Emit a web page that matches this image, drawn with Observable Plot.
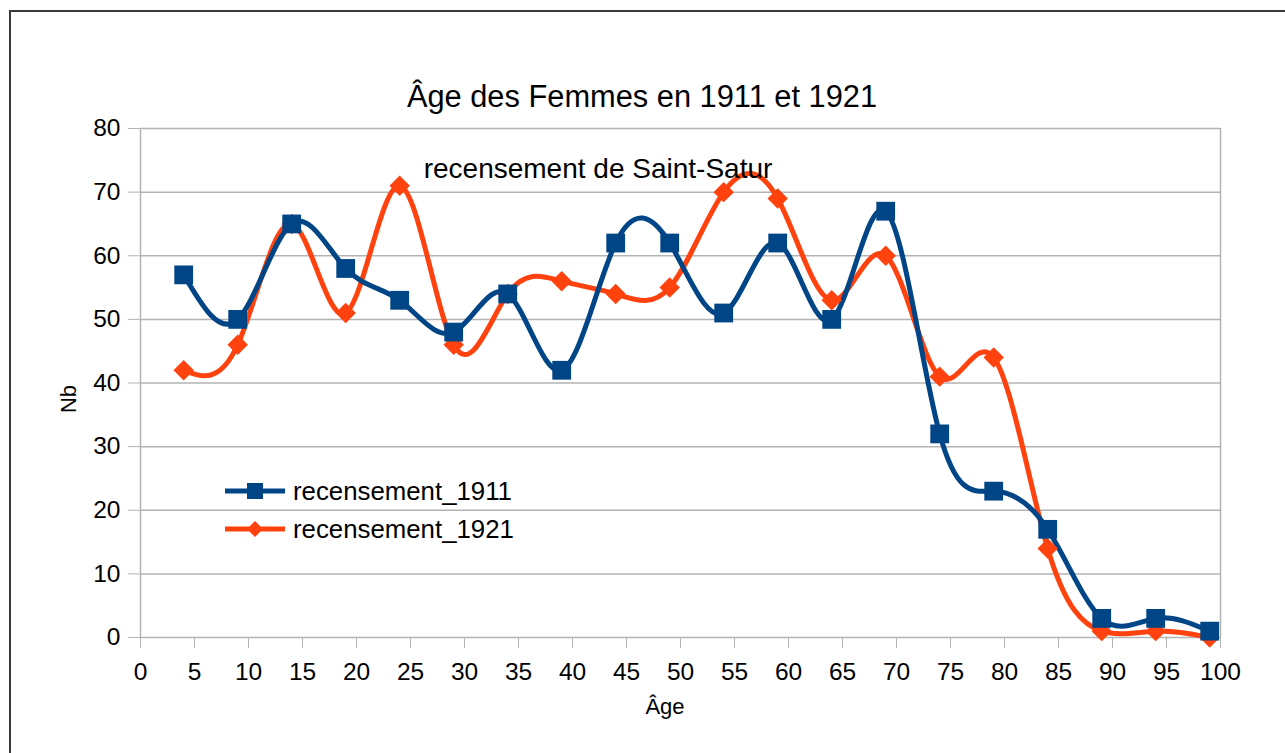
<!DOCTYPE html>
<html><head><meta charset="utf-8">
<script src="https://cdn.jsdelivr.net/npm/d3@7"></script>
<script src="https://cdn.jsdelivr.net/npm/@observablehq/plot@0.6"></script>
<style>
body{margin:0;background:#fff;font-family:"Liberation Sans",Arial,sans-serif;}
#wrap{position:relative;width:1285px;height:753px;overflow:hidden;background:#fff;}
#border{position:absolute;left:9px;top:10px;width:1400px;height:900px;border:2px solid #3a3a3a;box-sizing:border-box;}
#chart{position:absolute;left:0;top:0;}
#overlay{position:absolute;left:0;top:0;pointer-events:none;}
</style></head><body>
<div id="wrap">
  <div id="border"></div>
  <div id="chart"></div>
  <svg id="overlay" width="1285" height="753" font-family="Liberation Sans, Arial, sans-serif">
    <text x="642" y="107" text-anchor="middle" font-size="30.8" fill="#000">Âge des Femmes en 1911 et 1921</text>
    <text x="598" y="178" text-anchor="middle" font-size="28" fill="#000">recensement de Saint-Satur</text>
    <text x="665" y="714" text-anchor="middle" font-size="22" fill="#000">Âge</text>
    <text transform="translate(76,399) rotate(-90)" text-anchor="middle" font-size="22" fill="#000">Nb</text>
    <g id="legend"></g>
  </svg>
</div>
<script>
// ---- data ----
const ages = [4, 9, 14, 19, 24, 29, 34, 39, 44, 49, 54, 59, 64, 69, 74, 79, 84, 89, 94, 99];
const recensement1911 = [57, 50, 65, 58, 53, 48, 54, 42, 62, 62, 51, 62, 50, 67, 32, 23, 17, 3, 3, 1];
const recensement1921 = [42, 46, 65, 51, 71, 46, 54, 56, 54, 55, 70, 69, 53, 60, 41, 44, 14, 1, 1, 0];
const seriesNames = ["recensement_1911", "recensement_1921"];
const xTicks = [0, 5, 10, 15, 20, 25, 30, 35, 40, 45, 50, 55, 60, 65, 70, 75, 80, 85, 90, 95, 100];
const yTicks = [0, 10, 20, 30, 40, 50, 60, 70, 80];

const blue = "#004586", orange = "#ff420e", grid = "#b3b3b3";
const d1911 = ages.map((a, i) => ({age: a, nb: recensement1911[i]}));
const d1921 = ages.map((a, i) => ({age: a, nb: recensement1921[i]}));

const chart = Plot.plot({
  width: 1285,
  height: 753,
  marginTop: 128,
  marginBottom: 116,
  marginLeft: 140,
  marginRight: 65,
  style: {fontFamily: "Liberation Sans, Arial, sans-serif", color: "#000", background: "transparent", overflow: "visible"},
  x: {domain: [0, 100], label: null},
  y: {domain: [0, 80], label: null},
  marks: [
    Plot.gridY(yTicks, {stroke: grid, strokeOpacity: 1, strokeWidth: 1.5}),
    Plot.ruleX([0, 100], {y1: 0, y2: 80, stroke: grid, strokeWidth: 1.5}),
    Plot.axisY({ticks: yTicks, tickSize: 12, tickPadding: 8, fontSize: 24.5, stroke: grid, fill: "#000", label: null}),
    Plot.axisX({ticks: xTicks, tickSize: 11, tickPadding: 14, fontSize: 24.5, stroke: grid, fill: "#000", label: null}),
    Plot.line(d1921, {x: "age", y: "nb", stroke: orange, strokeWidth: 5, curve: "natural"}),
    Plot.line(d1911, {x: "age", y: "nb", stroke: blue, strokeWidth: 5, curve: "natural"}),
    Plot.dot(d1921, {x: "age", y: "nb", symbol: "diamond2", r: 9.2, fill: orange, stroke: "none"}),
    Plot.dot(d1911, {x: "age", y: "nb", symbol: "square", r: 10.6, fill: blue, stroke: "none"})
  ]
});
document.getElementById("chart").appendChild(chart);

// ---- legend ----
const lg = d3.select("#legend");
const colors = [blue, orange];
const rowsY = [491, 529];
seriesNames.forEach((name, i) => {
  const g = lg.append("g").attr("transform", `translate(0,${rowsY[i]})`);
  g.append("line").attr("x1", 225).attr("x2", 285).attr("y1", 0).attr("y2", 0)
    .attr("stroke", colors[i]).attr("stroke-width", 5);
  if (i === 0) {
    g.append("rect").attr("x", 247).attr("y", -8).attr("width", 16).attr("height", 16).attr("fill", blue);
  } else {
    g.append("path").attr("d", "M255,-8L263,0L255,8L247,0Z").attr("fill", orange);
  }
  g.append("text").attr("x", 293).attr("y", 9).attr("font-size", 25.8).attr("fill", "#000").text(name);
});
</script>
</body></html>
